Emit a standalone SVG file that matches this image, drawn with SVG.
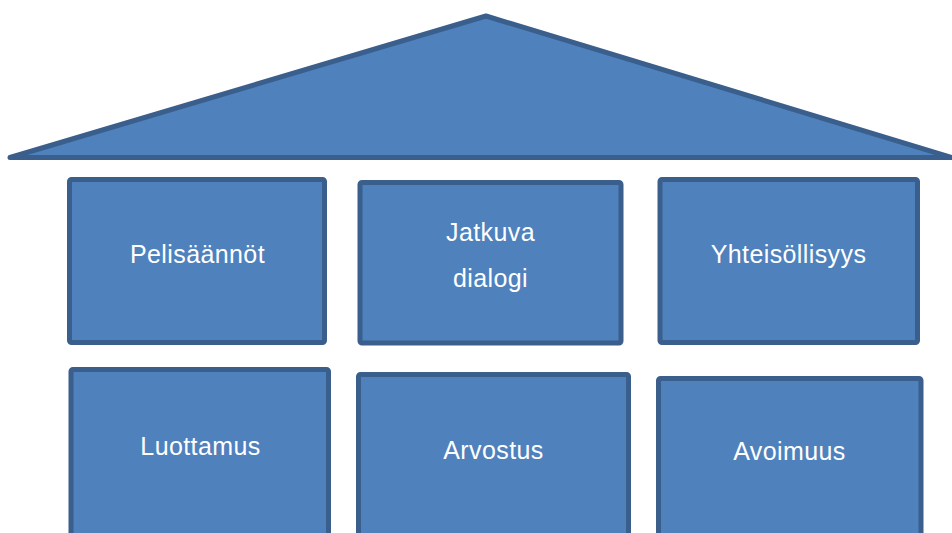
<svg xmlns="http://www.w3.org/2000/svg" width="952" height="533" viewBox="0 0 952 533">
<style>
.s{fill:#4F81BD;stroke:#3A5F8D;stroke-width:5;stroke-linejoin:round}
.t{font-family:"Liberation Sans",Arial,sans-serif;font-size:25px;letter-spacing:0.4px;fill:#FFFFFF;text-anchor:middle}
</style>
<rect width="952" height="533" fill="#FFFFFF"/>
<g id="roof"><polygon class="s" points="10,157.5 486,16 952,157.5"/></g>
<g id="pelisaannot"><rect class="s" x="69.5" y="179.5" width="255" height="163" rx="2"/><text class="t" x="197.5" y="263">Pelisäännöt</text></g>
<g id="jatkuva-dialogi"><rect class="s" x="360" y="182.5" width="261" height="160.5" rx="2"/><text class="t" x="490.5" y="241">Jatkuva</text><text class="t" x="490.5" y="287">dialogi</text></g>
<g id="yhteisollisyys"><rect class="s" x="660" y="179.5" width="257.5" height="163" rx="2"/><text class="t" x="788.5" y="263">Yhteisöllisyys</text></g>
<g id="luottamus"><rect class="s" x="71" y="369.5" width="257.5" height="180" rx="2"/><text class="t" x="200.5" y="455">Luottamus</text></g>
<g id="arvostus"><rect class="s" x="358.5" y="374.5" width="270" height="175" rx="2"/><text class="t" x="493.5" y="459">Arvostus</text></g>
<g id="avoimuus"><rect class="s" x="658.5" y="378.5" width="262.5" height="171" rx="2"/><text class="t" x="789.5" y="460">Avoimuus</text></g>
<g id="connectors"></g>
</svg>
